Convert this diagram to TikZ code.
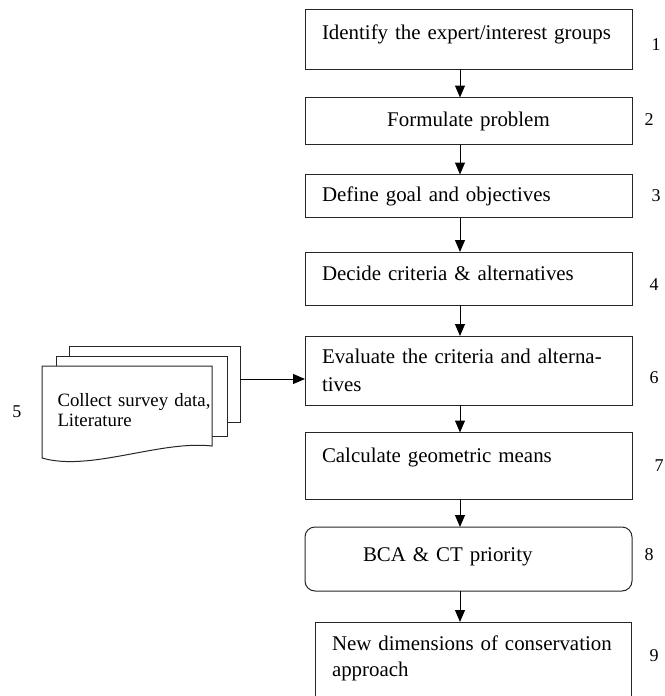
\documentclass[tikz,border=0pt]{standalone}
\usepackage{fontspec}
\setmainfont{Liberation Serif}
\usetikzlibrary{arrows.meta,positioning}

\newcommand{\stagefont}{\fontsize{20.9}{26}\selectfont}
\newcommand{\numfont}{\fontsize{18}{22}\selectfont}
\newcommand{\docfont}{\fontsize{18.8}{19.3}\selectfont}

\begin{document}
\begin{tikzpicture}[x=1pt,y=-1pt,->,>={Triangle[length=12pt,width=10pt]},line width=1pt,
                    stage node/.style={draw=black!85,rectangle,anchor=north west,inner ysep=0pt,
                      inner xsep=17pt,text width=293pt,align=left,font=\stagefont,outer sep=0pt},
                    num node/.style={anchor=base west,inner sep=0pt,font=\numfont},
                    page/.style={-,draw=black!85,fill=white}]

  \useasboundingbox (0,0) rectangle (664,696);
  \coordinate (spine) at (460,0);

  % steps of the procedure
  \node[stage node,text height=30.3pt,text depth=29.7pt] (s1) at (305,9) {\mbox{Identify the expert/interest groups}};
  \node[stage node,align=center,text height=29.2pt,text depth=17.8pt] (s2) at (305,97.5) {Formulate problem};
  \node[stage node,text height=27.2pt,text depth=15.8pt] (s3) at (305,174.5) {Define goal and objectives};
  \node[stage node,text height=28.7pt,text depth=24.3pt] (s4) at (305,252) {Decide criteria \& alternatives};
  \node[stage node,text height=27.5pt,text depth=41.5pt] (s6) at (305,336) {Evaluate the criteria and alterna-\\[2pt]tives};
  \node[stage node,text height=30.2pt,text depth=36.3pt] (s7) at (305,432.5) {Calculate geometric means};
  \node[stage node,rounded corners=10pt,inner xsep=58pt,text width=211pt,
        text height=34.7pt,text depth=29.3pt] (s8) at (305,527) {BCA \& CT priority};
  \node[stage node,text width=282pt,text height=28.7pt,text depth=54.3pt] (s9) at (315,622)
    {\mbox{New dimensions of conservation}\\approach};

  \foreach \a/\b in {s1/s2,s2/s3,s3/s4,s4/s6,s6/s7,s7/s8,s8/s9}
    \draw (\a.south -| spine) -- (\b.north -| spine);

  % stack of documents
  \draw[page] (69,346) rectangle (240,422);
  \draw[page] (56,356) rectangle (227,436);
  \draw[page] (42,366) -- (212,366) -- (212,446) .. controls (160,440) and (90,472) .. (42,458) -- cycle;
  \node[anchor=base west,inner sep=0pt,text width=160pt,align=left,font=\docfont] (docs) at (57,406.7)
    {Collect survey data,\\Literature};

  \coordinate (feed) at (240,379);
  \draw (feed) -- (feed -| s6.west);

  % step numbers
  \foreach \n/\x/\y in {1/651/50,2/644/125.7,3/651/201.7,4/649/290,5/12/417,6/649/383,7/654/471,8/644/560,9/649/661.7}
    \node[num node] (n\n) at (\x,\y) {\n};
\end{tikzpicture}
\end{document}
